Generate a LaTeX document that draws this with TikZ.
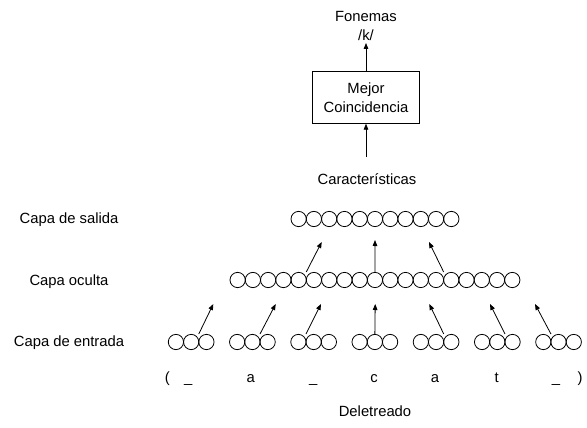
\documentclass[tikz,border=0pt]{standalone}
\usepackage{fontspec}
\setmainfont{Liberation Sans}
\usetikzlibrary{arrows.meta,calc}
\begin{document}
\begin{tikzpicture}[x=1pt,y=-1pt,
  neuron/.style={circle,draw,line width=0.8pt,minimum size=15.26pt,inner sep=0pt},
  lbl/.style={font=\fontsize{14.8}{19.3}\selectfont,inner sep=0pt,align=center},
  arr/.style={line width=0.8pt,-{Triangle[length=6pt,width=4.6pt]}},
  mbox/.style={draw,line width=0.8pt,minimum width=107pt,minimum height=51.6pt,inner sep=0pt,align=center,font=\fontsize{14.8}{19.3}\selectfont}]
\useasboundingbox (0,0) rectangle (587,428);
% top part
\node[lbl] (fon) at (366,16.7) {Fonemas};
\node[lbl] (k) at (366,35) {/k/};
\coordinate (ktip) at (366,43);
\node[mbox] (mc) at (366,97.5) {Mejor\\Coincidencia};
\coordinate (ctail) at (366,157);
\node[lbl] (car) at (367,179) {Características};
\draw[arr] (mc.north) -- (ktip);
\draw[arr] (ctail) -- (mc.south);
% layer labels
\node[lbl] (ls) at (69,220) {Capa de salida};
\node[lbl] (lo) at (69,282) {Capa oculta};
\node[lbl] (le) at (69,343) {Capa de entrada};
% output layer
\foreach \i in {1,...,11}
  \node[neuron] (o\i) at ({291+15.27*(\i-0.5)},219) {};
% hidden layer
\foreach \i in {1,...,19}
  \node[neuron] (h\i) at ({230+15.26*(\i-0.5)},280) {};
% input layer
\foreach \g in {1,...,7}
  \foreach \j in {1,2,3}
    \node[neuron] (g\g-\j) at ({168.3+61.23*(\g-1)+15.25*(\j-0.5)},342) {};
% hidden -> output arrows
\coordinate (ho1) at (321.7,242);
\coordinate (ho2) at (375,240);
\coordinate (ho3) at (429,242);
\draw[arr] ($(h5.north)!0.5!(h6.north)$) -- (ho1);
\draw[arr] (h10.north) -- (ho2);
\draw[arr] ($(h14.north)!0.5!(h15.north)$) -- (ho3);
% input -> hidden arrows
\coordinate (t1) at (213.3,304);
\coordinate (t2) at (275.7,304);
\coordinate (t3) at (321,304);
\coordinate (t4) at (375.2,304);
\coordinate (t5) at (429.3,304);
\coordinate (t6) at (490,304);
\coordinate (t7) at (535,304);
\draw[arr] ($(g1-2.north)!0.5!(g1-3.north)$) -- (t1);
\draw[arr] ($(g2-2.north)!0.5!(g2-3.north)$) -- (t2);
\draw[arr] ($(g3-1.north)!0.5!(g3-2.north)$) -- (t3);
\draw[arr] (g4-2.north) -- (t4);
\draw[arr] ($(g5-2.north)!0.5!(g5-3.north)$) -- (t5);
\draw[arr] ($(g6-2.north)!0.5!(g6-3.north)$) -- (t6);
\draw[arr] ($(g7-1.north)!0.5!(g7-2.north)$) -- (t7);
% spelling row
\node[lbl,anchor=base] (lp) at (167.3,382) {(};
\node[lbl,anchor=base] (l1) at (188.3,382) {\_};
\node[lbl,anchor=base] (l2) at (250.7,382) {a};
\node[lbl,anchor=base] (l3) at (313.3,382) {\_};
\node[lbl,anchor=base] (l4) at (374,382) {c};
\node[lbl,anchor=base] (l5) at (435,382) {a};
\node[lbl,anchor=base] (l6) at (496.7,382) {t};
\node[lbl,anchor=base] (l7) at (556,382) {\_};
\node[lbl,anchor=base] (rp) at (580,382) {)};
\node[lbl] (del) at (375,411.7) {Deletreado};
\end{tikzpicture}
\end{document}
